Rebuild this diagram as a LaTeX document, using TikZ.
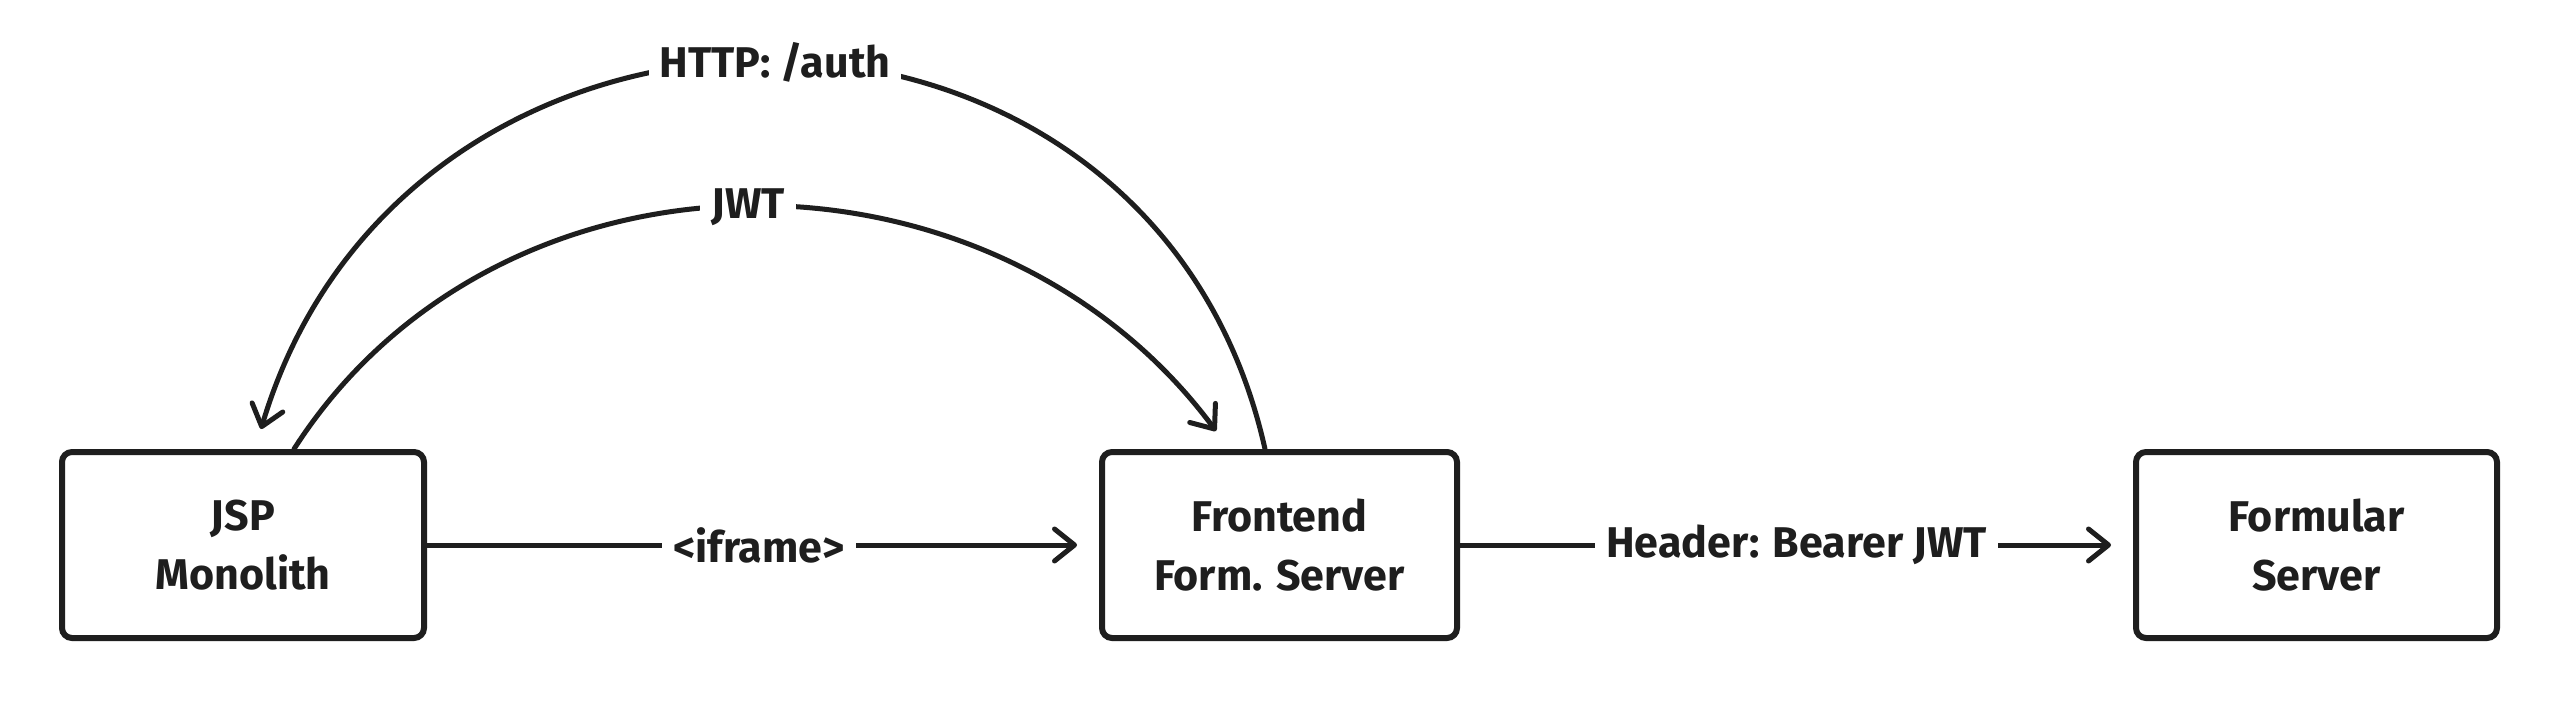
\documentclass[tikz,border=0pt]{standalone}
\usepackage{fontspec}
\setmainfont{Fira Sans}
\usetikzlibrary{arrows.meta}
\definecolor{ink}{HTML}{1E1E1E}
\tikzset{
  box/.style={draw=ink, line width=6pt, rounded corners=10pt, fill=white,
    align=center, text=ink, font=\fontsize{43}{59}\selectfont\bfseries},
  conn/.style={draw=ink, line width=5pt, line cap=round,
    -{Straight Barb[length=20pt,width=32pt,line width=5pt,round]}},
  lbl/.style={fill=white, text=ink, inner xsep=11pt, inner ysep=6pt,
    font=\fontsize{43}{48}\selectfont\bfseries}
}
\begin{document}
\begin{tikzpicture}[x=1pt,y=-1pt]
\useasboundingbox[fill=white] (0,0) rectangle (2559,702);
\node[box, minimum width=362pt, minimum height=186pt] (jsp) at (243,545) {JSP\\Monolith};
\node[box, minimum width=355pt, minimum height=186pt] (fe) at (1279.5,545) {Frontend\\Form. Server};
\node[box, minimum width=361pt, minimum height=186pt] (fs) at (2316.5,545) {Formular\\Server};
% horizontal connectors
\draw[conn, shorten >=22pt] (jsp.east) -- (fe.west) node[lbl, midway, xshift=-4pt] (l1) {<iframe>};
\draw[conn, shorten >=22pt] (fe.east) -- (fs.west) node[lbl, midway] (l2) {Header: Bearer JWT};
% HTTP /auth curve: Frontend -> JSP
\draw[conn] ([xshift=-14.5pt]fe.north) .. controls (1150,-65) and (408,-65) .. ([xshift=18pt,yshift=20pt]jsp.north);
\node[lbl] (l3) at (775,62) {HTTP: /auth};
% JWT curve: JSP -> Frontend
\draw[conn] ([xshift=51pt]jsp.north) .. controls (500,128) and (991,128) .. ([xshift=-63.5pt,yshift=18pt]fe.north);
\node[lbl] (l4) at (748,207) {JWT};
\end{tikzpicture}
\end{document}
